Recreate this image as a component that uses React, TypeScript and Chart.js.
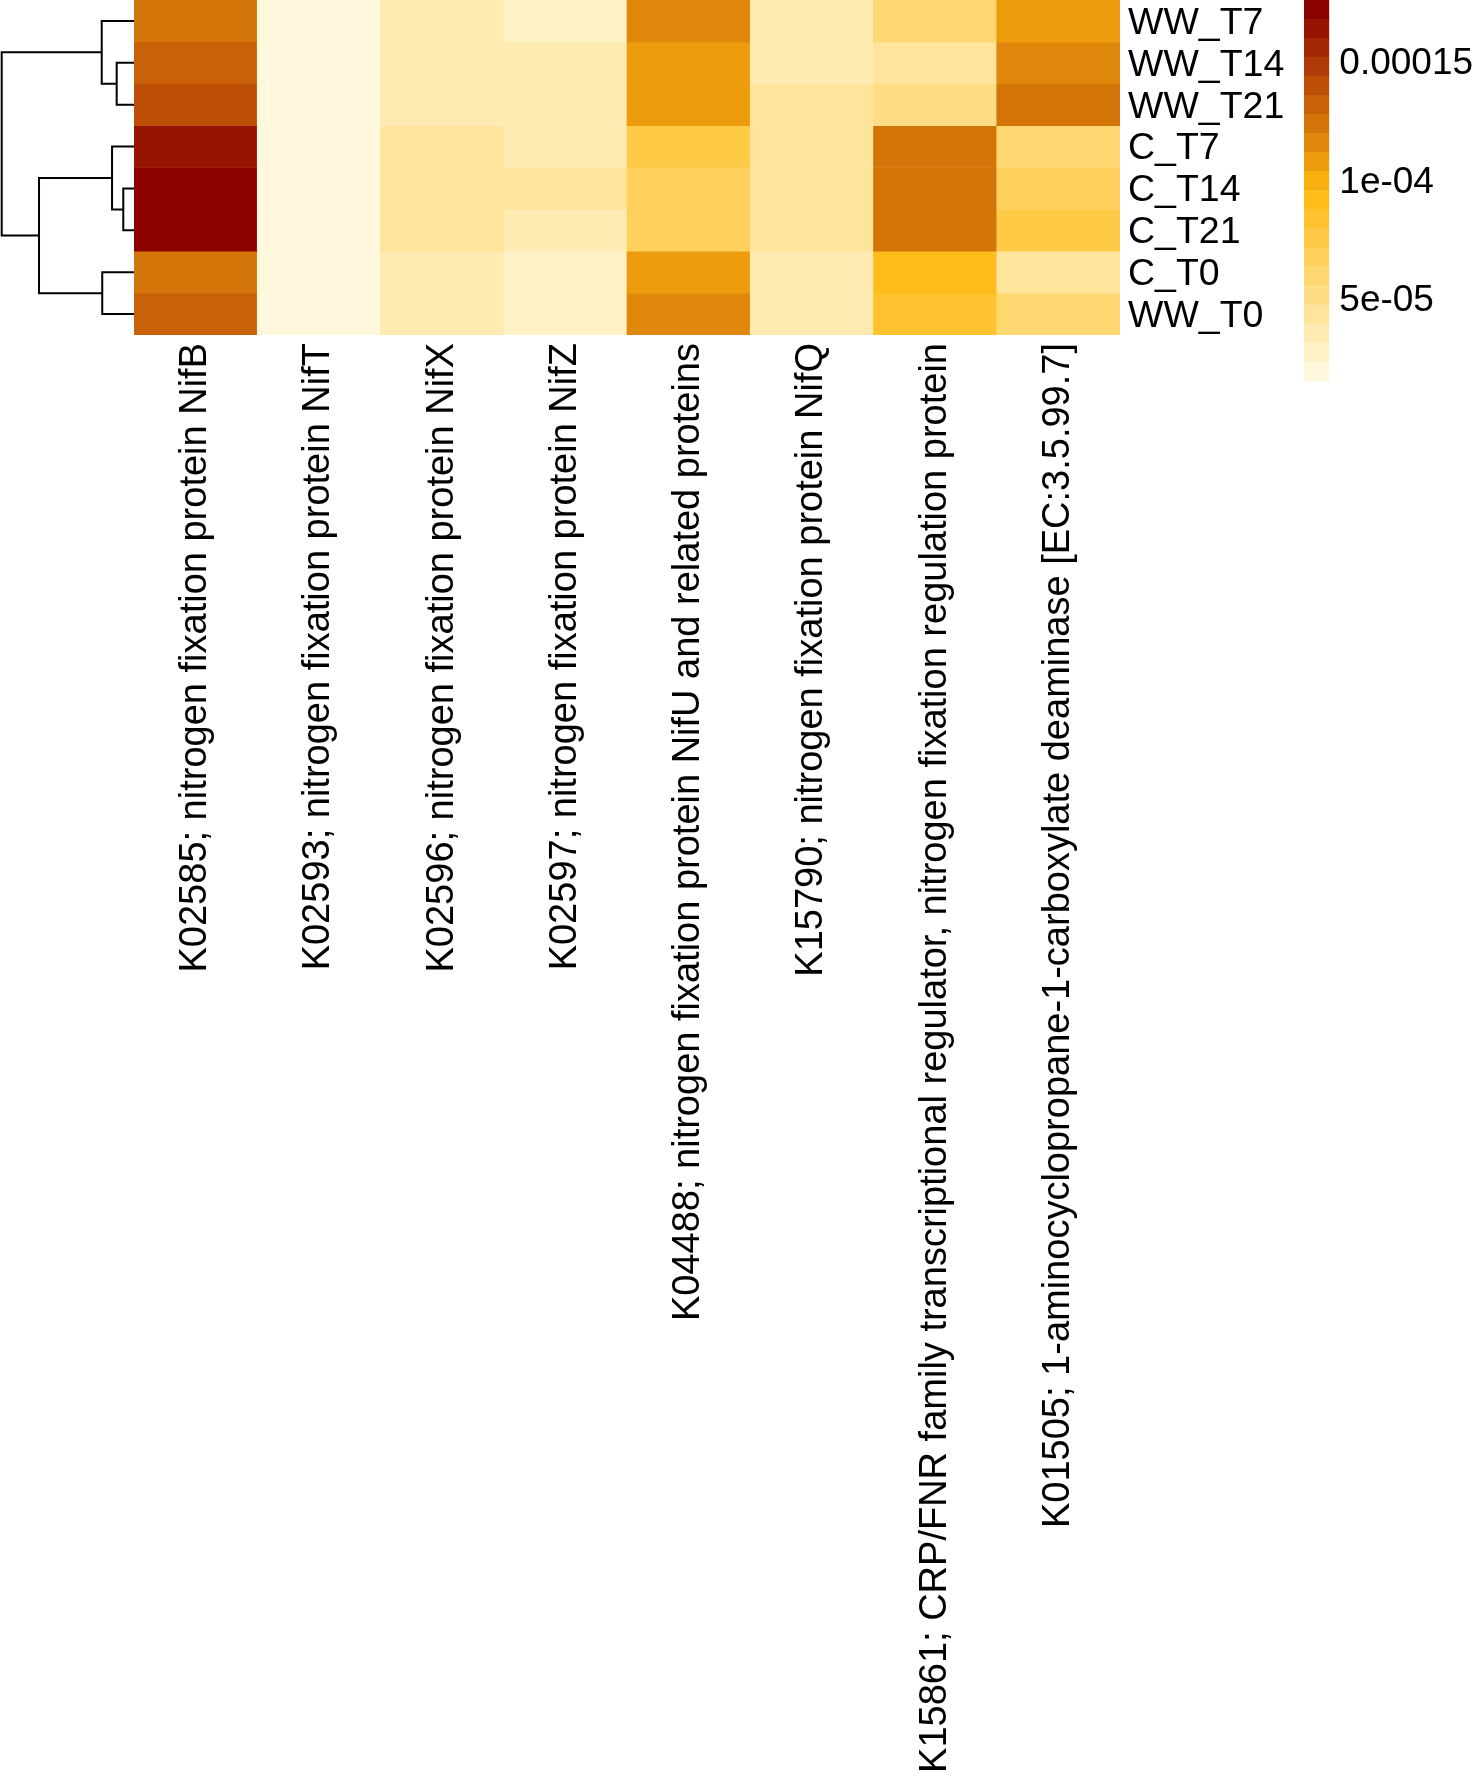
import React, { useEffect, useRef } from 'react';
import { Chart, registerables } from 'chart.js';

Chart.register(...registerables);

// ---------- data ----------
const genes = [
  'K02585; nitrogen fixation protein NifB',
  'K02593; nitrogen fixation protein NifT',
  'K02596; nitrogen fixation protein NifX',
  'K02597; nitrogen fixation protein NifZ',
  'K04488; nitrogen fixation protein NifU and related proteins',
  'K15790; nitrogen fixation protein NifQ',
  'K15861; CRP/FNR family transcriptional regulator, nitrogen fixation regulation protein',
  'K01505; 1-aminocyclopropane-1-carboxylate deaminase [EC:3.5.99.7]',
];

const samples = ['WW_T7', 'WW_T14', 'WW_T21', 'C_T7', 'C_T14', 'C_T21', 'C_T0', 'WW_T0'];

// relative abundance, one array per sample, in gene order
const WW_T7 = [1.24e-4, 1.6e-5, 3.5e-5, 2.7e-5, 1.16e-4, 3.5e-5, 6.0e-5, 1.08e-4];
const WW_T14 = [1.32e-4, 1.58e-5, 3.5e-5, 3.6e-5, 1.08e-4, 3.5e-5, 4.3e-5, 1.16e-4];
const WW_T21 = [1.4e-4, 1.62e-5, 3.5e-5, 3.6e-5, 1.08e-4, 4.3e-5, 5.1e-5, 1.24e-4];
const C_T7 = [1.64e-4, 1.56e-5, 4.3e-5, 3.6e-5, 7.6e-5, 4.3e-5, 1.24e-4, 6.0e-5];
const C_T14 = [1.76e-4, 1.53e-5, 4.3e-5, 4.3e-5, 6.8e-5, 4.3e-5, 1.24e-4, 6.8e-5];
const C_T21 = [1.73e-4, 1.55e-5, 4.3e-5, 3.6e-5, 6.8e-5, 4.3e-5, 1.24e-4, 7.6e-5];
const C_T0 = [1.24e-4, 1.57e-5, 3.5e-5, 2.7e-5, 1.08e-4, 3.5e-5, 9.2e-5, 4.3e-5];
const WW_T0 = [1.32e-4, 1.59e-5, 3.5e-5, 2.7e-5, 1.16e-4, 3.5e-5, 8.4e-5, 6.0e-5];

const valueRows = [WW_T7, WW_T14, WW_T21, C_T7, C_T14, C_T21, C_T0, WW_T0];

// row dendrogram (leaves = rows in display order, "L"=leaf, "N"=merge node)
const mergeA = ['L1', 'L0', 'L4', 'L3', 'L6', 'N3', 'N1'];
const mergeB = ['L2', 'N0', 'L5', 'N2', 'L7', 'N4', 'N5'];
const mergeHeight = [0.131, 0.244, 0.081, 0.166, 0.24, 0.718, 1.0];

// colour legend
const legendTickValues = [5e-5, 1e-4, 1.5e-4];
const legendTickLabels = ['5e-05', '1e-04', '0.00015'];
const paletteStops = ['#FFF8DC', '#FFB90F', '#8B0000'];
const nColors = 20;

// ---------- helpers ----------
const FONT = "'Liberation Sans', Arial, Helvetica, sans-serif";

function hexToRgb(h: string) {
  const n = parseInt(h.slice(1), 16);
  return [(n >> 16) & 255, (n >> 8) & 255, n & 255];
}
function rampColor(t: number) {
  const segs = paletteStops.length - 1;
  const pos = Math.min(segs - 1e-9, t * segs);
  const i = Math.floor(pos);
  const f = pos - i;
  const a = hexToRgb(paletteStops[i]);
  const b = hexToRgb(paletteStops[i + 1]);
  const c = a.map((v, j) => Math.round(v + (b[j] - v) * f));
  return `rgb(${c[0]},${c[1]},${c[2]})`;
}
const palette = Array.from({ length: nColors }, (_, k) => rampColor(k / (nColors - 1)));

const allValues = valueRows.flat();
const vmin = Math.min(...allValues);
const vmax = Math.max(...allValues);
function colorFor(v: number) {
  const k = Math.min(nColors - 1, Math.max(0, Math.floor(((v - vmin) / (vmax - vmin)) * nColors)));
  return palette[k];
}

// ---------- layout ----------
const HM_LEFT = 134;
const HM_RIGHT = 1120;
const HM_BOTTOM = 335;
const PAGE_W = 1476;
const PAGE_H = 1777;
const HM_CANVAS_W = 1300 - HM_LEFT;
const CB_LEFT = 1304;
const CB_W = PAGE_W - CB_LEFT;
const CB_H = 381;
const CB_BAR_W = 25.3;

export default function App() {
  const dendroRef = useRef<HTMLCanvasElement>(null);
  const heatRef = useRef<HTMLCanvasElement>(null);
  const barRef = useRef<HTMLCanvasElement>(null);

  useEffect(() => {
    document.body.style.margin = '0';
    const charts: Chart[] = [];

    // ---- dendrogram ----
    const nodeY: Record<string, number> = {};
    const nodeH: Record<string, number> = {};
    samples.forEach((_, i) => {
      nodeY['L' + i] = i + 0.5;
      nodeH['L' + i] = 0;
    });
    const dendroSets = mergeA.map((a, m) => {
      const b = mergeB[m];
      const h = mergeHeight[m];
      const ya = nodeY[a];
      const yb = nodeY[b];
      nodeY['N' + m] = (ya + yb) / 2;
      nodeH['N' + m] = h;
      return {
        data: [
          { x: nodeH[a], y: ya },
          { x: h, y: ya },
          { x: h, y: yb },
          { x: nodeH[b], y: yb },
        ],
        showLine: true,
        borderColor: '#000000',
        borderWidth: 2,
        pointRadius: 0,
        fill: false,
        tension: 0,
        clip: false as any,
      };
    });
    if (dendroRef.current) {
      charts.push(
        new Chart(dendroRef.current, {
          type: 'scatter',
          data: { datasets: dendroSets as any },
          options: {
            responsive: false,
            animation: false,
            layout: { padding: { left: 1.7, right: 0, top: 0, bottom: 0 } },
            plugins: { legend: { display: false }, tooltip: { enabled: false } },
            scales: {
              x: { type: 'linear', min: 0, max: 1, reverse: true, display: false },
              y: { type: 'linear', min: 0, max: samples.length, reverse: true, display: false },
            },
          },
        })
      );
    }

    // ---- heatmap ----
    const heatSets = valueRows.map((row, r) => ({
      label: samples[r],
      data: row.map(() => [r, r + 1]),
      backgroundColor: row.map((v) => colorFor(v)),
      borderWidth: 0,
      borderSkipped: false,
      grouped: false,
      barPercentage: 1,
      categoryPercentage: 1,
    }));
    if (heatRef.current) {
      charts.push(
        new Chart(heatRef.current, {
          type: 'bar',
          data: { labels: genes, datasets: heatSets as any },
          options: {
            responsive: false,
            animation: false,
            layout: { padding: 0 },
            plugins: { legend: { display: false }, tooltip: { enabled: false } },
            scales: {
              x: {
                type: 'category',
                position: 'bottom',
                grid: { display: false, drawTicks: false },
                border: { display: false },
                ticks: {
                  autoSkip: false,
                  minRotation: 90,
                  maxRotation: 90,
                  padding: 8,
                  color: '#000000',
                  font: { family: FONT, size: 38 },
                },
                afterFit: (s: any) => {
                  s.height = PAGE_H - HM_BOTTOM;
                  s.paddingLeft = 0;
                  s.paddingRight = 0;
                },
              },
              y: {
                type: 'linear',
                position: 'right',
                min: 0,
                max: samples.length,
                reverse: true,
                grid: { display: false, drawTicks: false },
                border: { display: false },
                afterBuildTicks: (s: any) => {
                  s.ticks = samples.map((_, i) => ({ value: i + 0.5 }));
                },
                ticks: {
                  autoSkip: false,
                  padding: 8,
                  labelOffset: 2.5,
                  color: '#000000',
                  font: { family: FONT, size: 37.5 },
                  callback: (_v: any, i: number) => samples[i],
                },
                afterFit: (s: any) => {
                  s.width = HM_CANVAS_W - (HM_RIGHT - HM_LEFT);
                  s.paddingTop = 0;
                  s.paddingBottom = 0;
                },
              },
            },
          },
        })
      );
    }

    // ---- colour bar ----
    const step = (vmax - vmin) / nColors;
    const barSets = palette.map((c, k) => ({
      data: [[vmin + k * step, vmin + (k + 1) * step]],
      backgroundColor: c,
      borderWidth: 0,
      borderSkipped: false,
      grouped: false,
      barPercentage: 1,
      categoryPercentage: 1,
    }));
    if (barRef.current) {
      charts.push(
        new Chart(barRef.current, {
          type: 'bar',
          data: { labels: [''], datasets: barSets as any },
          options: {
            responsive: false,
            animation: false,
            layout: { padding: 0 },
            plugins: { legend: { display: false }, tooltip: { enabled: false } },
            scales: {
              x: { type: 'category', display: false },
              y: {
                type: 'linear',
                position: 'right',
                min: vmin,
                max: vmax,
                grid: { display: false, drawTicks: false },
                border: { display: false },
                afterBuildTicks: (s: any) => {
                  s.ticks = legendTickValues.map((v) => ({ value: v }));
                },
                ticks: {
                  autoSkip: false,
                  padding: 10,
                  labelOffset: 2.5,
                  color: '#000000',
                  font: { family: FONT, size: 37 },
                  callback: (_v: any, i: number) => legendTickLabels[i],
                },
                afterFit: (s: any) => {
                  s.width = CB_W - CB_BAR_W;
                  s.paddingTop = 0;
                  s.paddingBottom = 0;
                },
              },
            },
          },
        })
      );
    }

    return () => {
      charts.forEach((c) => c.destroy());
    };
  }, []);

  return (
    <div style={{ position: 'relative', width: PAGE_W, height: PAGE_H, background: '#ffffff', overflow: 'hidden' }}>
      <canvas
        ref={dendroRef}
        width={HM_LEFT}
        height={HM_BOTTOM}
        style={{ position: 'absolute', left: 0, top: 0 }}
      />
      <canvas
        ref={heatRef}
        width={HM_CANVAS_W}
        height={PAGE_H}
        style={{ position: 'absolute', left: HM_LEFT, top: 0 }}
      />
      <canvas
        ref={barRef}
        width={CB_W}
        height={CB_H}
        style={{ position: 'absolute', left: CB_LEFT, top: 0 }}
      />
    </div>
  );
}
